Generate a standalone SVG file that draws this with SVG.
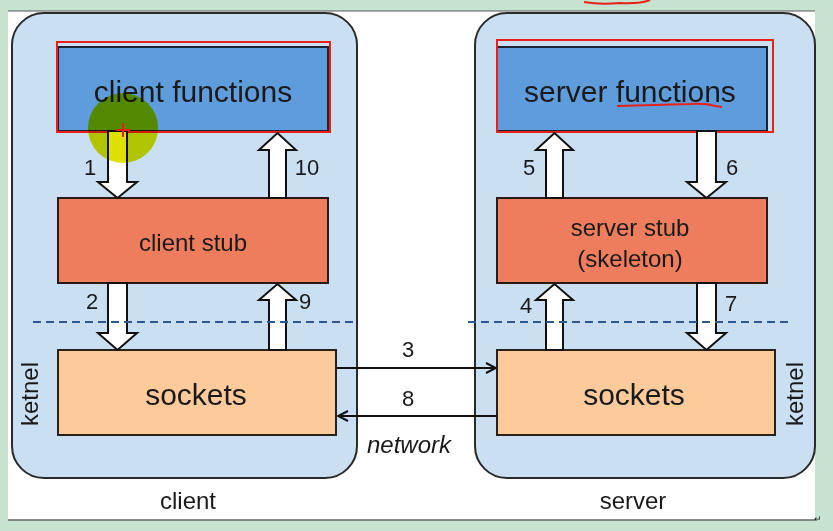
<svg xmlns="http://www.w3.org/2000/svg" width="833" height="531" viewBox="0 0 833 531">
<defs>
<style>
.t{font-family:"Liberation Sans",Arial,sans-serif;fill:#1a1a1a}
.cont{fill:#cadff1;stroke:#2a2a2a;stroke-width:2}
.fn{fill:#5e9cdb;stroke:#1c2433;stroke-width:2}
.stub{fill:#ee7d5e;stroke:#2a1a14;stroke-width:2}
.sock{fill:#fdca9b;stroke:#2a2218;stroke-width:2}
.barr{fill:#fff;stroke:#111;stroke-width:2;stroke-linejoin:miter}
.red{fill:none;stroke:#e8201a;stroke-width:2}
.dash{stroke:#2d5a8e;stroke-width:2;stroke-dasharray:8 5;fill:none}
.net{stroke:#111;stroke-width:2;fill:none}
.num{font-size:22px}
</style>
<marker id="ah" viewBox="0 0 12 12" refX="11" refY="6" markerWidth="12" markerHeight="12" markerUnits="userSpaceOnUse" orient="auto">
<path d="M1,1 L11,6 L1,11" fill="none" stroke="#111" stroke-width="2"/>
</marker>
</defs>
<rect x="0" y="0" width="833" height="531" fill="#c6e3cf"/>
<rect x="8" y="11" width="807" height="509" fill="#ffffff"/>
<line x1="8" y1="11" x2="815" y2="11" stroke="#555" stroke-width="1"/>
<line x1="8" y1="520" x2="815" y2="520" stroke="#666" stroke-width="1.5"/>
<path d="M584,2 Q600,5 620,3 Q640,4 650,0" fill="none" stroke="#e8201a" stroke-width="2"/>

<g id="client-container">
<rect class="cont" x="12" y="13" width="345" height="465" rx="32"/>
<text class="t" x="188" y="509" font-size="24" text-anchor="middle">client</text>
<text class="t" x="32" y="394" font-size="24" text-anchor="middle" transform="rotate(-90 32 394)" dominant-baseline="middle">ketnel</text>
</g>
<g id="server-container">
<rect class="cont" x="475" y="13" width="340" height="465" rx="32"/>
<text class="t" x="633" y="509" font-size="24" text-anchor="middle">server</text>
<text class="t" x="797" y="394" font-size="24" text-anchor="middle" transform="rotate(-90 797 394)" dominant-baseline="middle">ketnel</text>
</g>

<g id="client-functions">
<rect class="fn" x="58" y="47" width="270" height="84"/>
<text class="t" x="193" y="102" font-size="30" text-anchor="middle">client functions</text>
<rect class="red" x="57" y="42" width="273" height="90"/>
</g>
<g id="server-functions">
<rect class="fn" x="497" y="47" width="270" height="84"/>
<text class="t" x="630" y="102" font-size="30" text-anchor="middle">server functions</text>
<rect class="red" x="497" y="40" width="276" height="92"/>
<path d="M617,106 L690,104 Q705,103 715,106 L722,107" fill="none" stroke="#e8201a" stroke-width="2"/>
</g>
<g id="client-stub">
<rect class="stub" x="58" y="198" width="270" height="85"/>
<text class="t" x="193" y="251" font-size="24" text-anchor="middle">client stub</text>
</g>
<g id="server-stub">
<rect class="stub" x="497" y="198" width="270" height="85"/>
<text class="t" x="630" y="236" font-size="24" text-anchor="middle">server stub</text>
<text class="t" x="630" y="267" font-size="24" text-anchor="middle">(skeleton)</text>
</g>
<g id="client-sockets">
<rect class="sock" x="58" y="350" width="278" height="85"/>
<text class="t" x="196" y="405" font-size="30" text-anchor="middle">sockets</text>
</g>
<g id="server-sockets">
<rect class="sock" x="497" y="350" width="278" height="85"/>
<text class="t" x="634" y="405" font-size="30" text-anchor="middle">sockets</text>
</g>

<g id="connectors">
<path class="barr" d="M108,131 L127,131 L127,182 L137,182 L117.5,198 L98,182 L108,182 Z"/>
<path class="barr" d="M269,198 L286,198 L286,150 L296,150 L277.5,133 L259,150 L269,150 Z"/>
<path class="barr" d="M108,283 L127,283 L127,333 L137,333 L117.5,350 L98,333 L108,333 Z"/>
<path class="barr" d="M269,350 L286,350 L286,300 L296,300 L277.5,284 L259,300 L269,300 Z"/>
<path class="barr" d="M546,198 L563,198 L563,150 L573,150 L554.5,133 L536,150 L546,150 Z"/>
<path class="barr" d="M697,131 L716,131 L716,182 L726,182 L706.5,198 L687,182 L697,182 Z"/>
<path class="barr" d="M546,350 L563,350 L563,300 L573,300 L554.5,284 L536,300 L546,300 Z"/>
<path class="barr" d="M697,283 L716,283 L716,333 L726,333 L706.5,350 L687,333 L697,333 Z"/>
<line class="net" x1="337" y1="368" x2="496" y2="368" marker-end="url(#ah)"/>
<line class="net" x1="497" y1="416" x2="338" y2="416" marker-end="url(#ah)"/>
</g>

<g id="dividers">
<line class="dash" x1="33" y1="322" x2="357" y2="322"/>
<line class="dash" x1="468" y1="322" x2="792" y2="322"/>
</g>

<g id="labels">
<text class="t num" x="90" y="175" text-anchor="middle">1</text>
<text class="t num" x="307" y="175" text-anchor="middle">10</text>
<text class="t num" x="92" y="309" text-anchor="middle">2</text>
<text class="t num" x="305" y="309" text-anchor="middle">9</text>
<text class="t num" x="529" y="175" text-anchor="middle">5</text>
<text class="t num" x="732" y="175" text-anchor="middle">6</text>
<text class="t num" x="526" y="313" text-anchor="middle">4</text>
<text class="t num" x="731" y="311" text-anchor="middle">7</text>
<text class="t num" x="408" y="357" text-anchor="middle">3</text>
<text class="t num" x="408" y="406" text-anchor="middle">8</text>
<text class="t" x="409" y="453" font-size="24" font-style="italic" text-anchor="middle">network</text>
<text class="t" x="818" y="522" font-size="9" text-anchor="middle" fill="#666">↵</text>
</g>

<g id="cursor-highlight">
<circle cx="123" cy="128" r="35" fill="#e0e000" style="mix-blend-mode:multiply"/>
<path d="M116,130 L130,130 M123,123 L123,137" stroke="#e8201a" stroke-width="2"/>
</g>
</svg>
